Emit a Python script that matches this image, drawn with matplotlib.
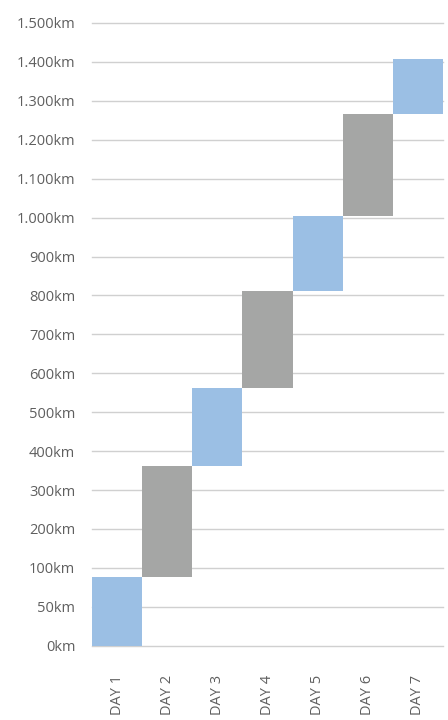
import numpy as np
import matplotlib
matplotlib.use("Agg")
import matplotlib.pyplot as plt
from matplotlib.ticker import FixedLocator

# 누적 거리 (km) — 막대는 전날 누적값에서 당일 누적값까지
days = ["DAY 1", "DAY 2", "DAY 3", "DAY 4", "DAY 5", "DAY 6", "DAY 7"]
cum_km = [88, 362, 562, 812, 1005, 1266, 1408]
bar_colors = ["#9BBFE4", "#A5A6A5", "#9BBFE4", "#A5A6A5", "#9BBFE4", "#A5A6A5", "#9BBFE4"]

y_ticks = [0, 50, 100, 200, 300, 400, 500, 600, 700, 800, 900,
           1000, 1100, 1200, 1300, 1400, 1500]
y_labels = ["0km", "50km", "100km", "200km", "300km", "400km", "500km", "600km",
            "700km", "800km", "900km", "1.000km", "1.100km", "1.200km",
            "1.300km", "1.400km", "1.500km"]


# 0~100km 구간은 50km 간격, 이후는 100km 간격으로 같은 높이
def fwd(v):
    v = np.asarray(v, dtype=float)
    return np.where(v <= 100, v / 50.0, v / 100.0 + 1.0)


def inv(i):
    i = np.asarray(i, dtype=float)
    return np.where(i <= 2, i * 50.0, (i - 1.0) * 100.0)


plt.rcParams["font.family"] = ["Open Sans", "DejaVu Sans"]
text_col = "#5F5F5F"

fig = plt.figure(figsize=(4.48, 7.2), dpi=100)
ax = fig.add_axes([92 / 448, 1 - 645.7 / 720, 351 / 448, (645.7 - 23) / 720])
ax.set_yscale("function", functions=(fwd, inv))

starts = [0] + cum_km[:-1]
heights = [c - s for c, s in zip(cum_km, starts)]
x = np.arange(len(days))
ax.bar(x, heights, bottom=starts, width=1.0, color=bar_colors, zorder=3)

ax.set_xlim(-0.5, len(days) - 0.5)
ax.set_ylim(0, 1500)
ax.yaxis.set_major_locator(FixedLocator(y_ticks))
ax.yaxis.set_minor_locator(FixedLocator([]))
ax.set_yticklabels(y_labels)
ax.set_xticks(x)
ax.set_xticklabels(days, rotation=90, va="top")

ax.grid(axis="y", color="#D0D0D0", linewidth=1.0, zorder=0)
for gl in ax.get_ygridlines():
    gl.set_clip_on(False)
for s in ax.spines.values():
    s.set_visible(False)
ax.tick_params(axis="y", length=0, pad=12, labelsize=10.5, labelcolor=text_col)
ax.tick_params(axis="x", length=0, pad=21, labelsize=10.5, labelcolor=text_col)

fig.savefig("out.png", dpi=100)
